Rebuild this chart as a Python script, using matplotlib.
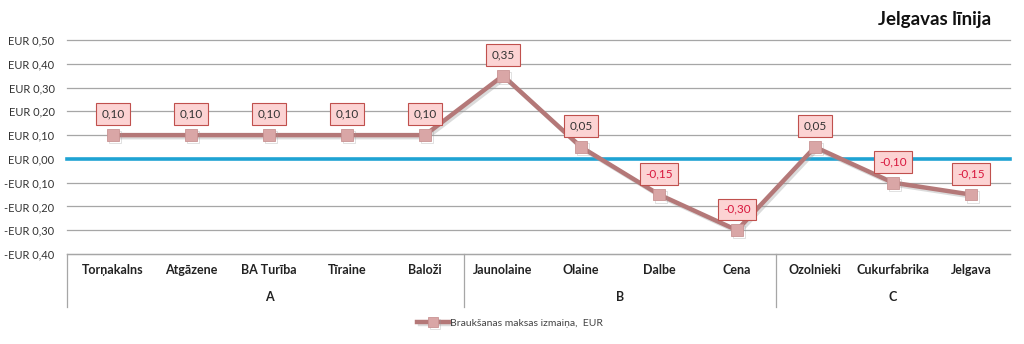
import matplotlib
matplotlib.use("Agg")
import matplotlib.pyplot as plt
import matplotlib.patheffects as pe
import numpy as np

plt.rcParams['font.family'] = ['Lato', 'DejaVu Sans']

stations = ["Torņakalns", "Atgāzene", "BA Turība", "Tīraine", "Baloži",
            "Jaunolaine", "Olaine", "Dalbe", "Cena",
            "Ozolnieki", "Cukurfabrika", "Jelgava"]
zones = ["A", "B", "C"]
zone_sizes = [5, 4, 3]
change = [0.10, 0.10, 0.10, 0.10, 0.10, 0.35, 0.05, -0.15, -0.30, 0.05, -0.10, -0.15]
yticks = [0.5, 0.4, 0.3, 0.2, 0.1, 0.0, -0.1, -0.2, -0.3, -0.4]

W, H = 1024, 344
fig = plt.figure(figsize=(W / 100, H / 100), dpi=100)
ax = fig.add_axes([74 / W, 1 - 254 / H, (1010 - 74) / W, (254 - 40) / H])

x = np.arange(len(stations))
ax.set_xlim(-0.5, len(stations) - 0.5)
ax.set_ylim(-0.4, 0.5)
for s in ax.spines.values():
    s.set_visible(False)
ax.set_xticks([])
ax.set_yticks(yticks)
ax.set_yticklabels([("-" if v < 0 else "") + "EUR " + f"{abs(v):.2f}".replace(".", ",") for v in yticks],
                   fontsize=8, color="#333333")
ax.tick_params(axis="y", length=0, pad=14)

unit_px = (1010 - 74) / len(stations)
ext = -0.5 - 7 / unit_px
for v in yticks:
    if v == 0:
        continue
    ax.plot([ext, len(stations) - 0.5], [v, v], color="#a6a6a6", lw=0.9, clip_on=False, zorder=1)
ax.plot([ext, len(stations) - 0.5], [0, 0], color="#1fa3d3", lw=2.6, clip_on=False, zorder=2)

# series line with shadow
ax.plot(x, change, color="#b47878", lw=3.2, marker="s", ms=8.5,
        mfc="#d9a6a6", mec="#c99393", mew=0.6, zorder=4,
        path_effects=[pe.SimpleLineShadow(offset=(1.5, -1.5), shadow_color="#999999", alpha=0.35), pe.Normal()],
        label="Braukšanas maksas izmaiņa,  EUR")

for xi, v in zip(x, change):
    txt = f"{v:.2f}".replace(".", ",")
    col = "#d8173d" if v < 0 else "#333333"
    ax.annotate(txt, (xi, v), xytext=(0, 15), textcoords="offset points",
                ha="center", va="center", fontsize=8.5, color=col, zorder=6,
                bbox=dict(boxstyle="square,pad=0.45", fc="#fcd3d3", ec="#c0504d", lw=0.8))

# category table under axis
trans = ax.get_xaxis_transform()
table_bottom = -(307 - 254) / (254 - 40)
left_edge = ext
ax.plot([left_edge, len(stations) - 0.5], [0, 0], transform=trans, color="#a6a6a6", lw=0.9, clip_on=False)
for xi, name in zip(x, stations):
    ax.text(xi, -(270 - 254) / (254 - 40), name, transform=trans, ha="center", va="center",
            fontsize=9, fontweight="bold", color="#222222")
start = 0
bounds = [left_edge]
for z, n in zip(zones, zone_sizes):
    mid = start + (n - 1) / 2
    ax.text(mid, -(297 - 254) / (254 - 40), z, transform=trans, ha="center", va="center",
            fontsize=9, fontweight="bold", color="#222222")
    start += n
    if start < len(stations):
        bounds.append(start - 0.5)
for b in bounds:
    ax.plot([b, b], [0, table_bottom], transform=trans, color="#a6a6a6", lw=0.9, clip_on=False)

leg = fig.legend(loc="center", bbox_to_anchor=(510 / W, 1 - 323 / H), frameon=False,
                 fontsize=7.5, handlelength=3.0, handletextpad=0.1, labelcolor="#444444",
                 markerscale=0.8)

fig.text(935 / W, 1 - 20 / H, "Jelgavas līnija", ha="center", va="center",
         fontsize=13.5, fontweight="bold", color="#111111")

fig.savefig("out.png", dpi=100)
